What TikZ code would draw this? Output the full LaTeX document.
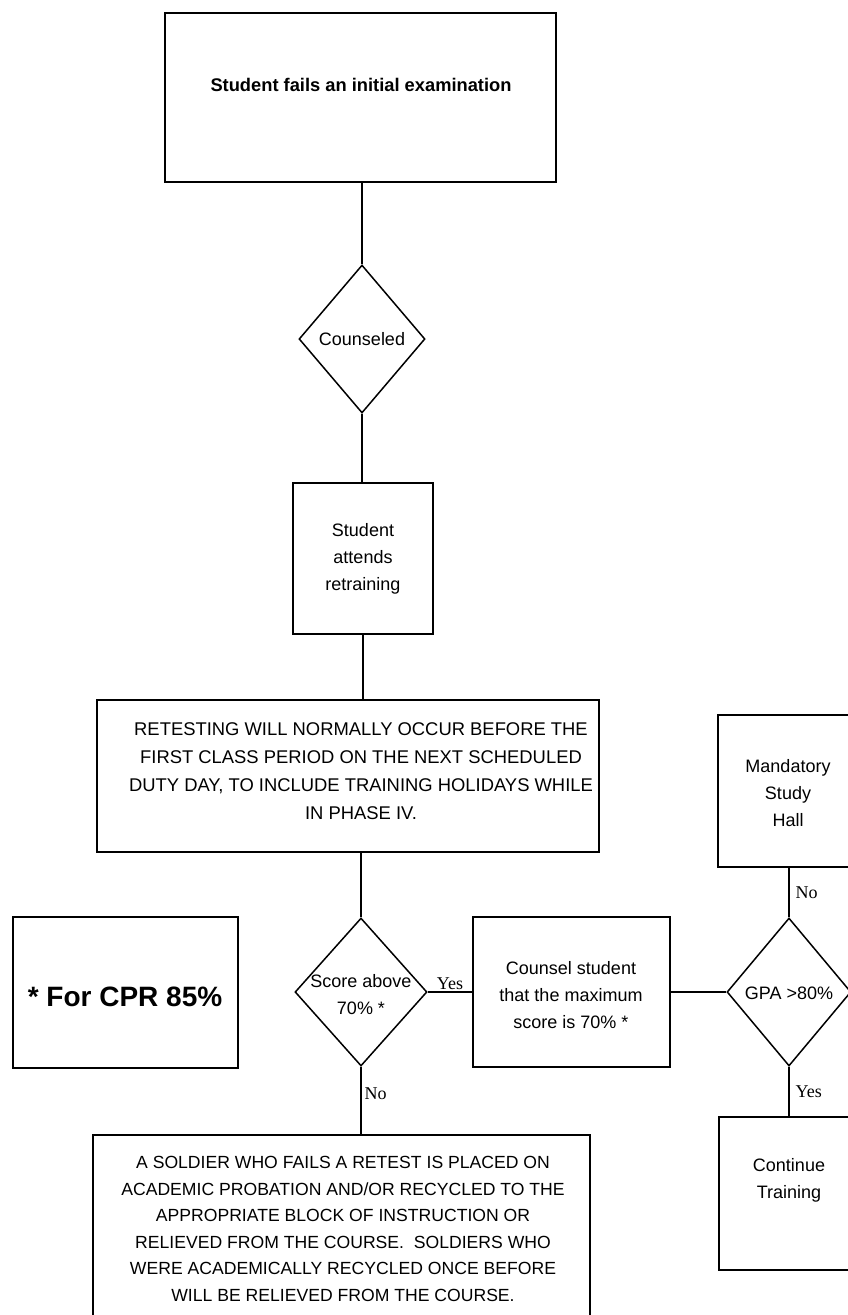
\documentclass[tikz,border=0pt]{standalone}
\usepackage{fontspec}
\setmainfont{Liberation Sans}
\newfontfamily\lblfont{Liberation Serif}
\usetikzlibrary{shapes.geometric}
\begin{document}
\begin{tikzpicture}[x=1pt,y=-1pt,
  box/.style={draw,line width=1.4pt,rectangle,inner sep=0pt},
  dia/.style={draw,line width=1.5pt,diamond,inner sep=0pt},
  txt/.style={align=center,inner sep=0pt,font=\fontsize{18}{27}\selectfont},
  captxt/.style={align=center,inner sep=0pt,font=\fontsize{18.4}{28}\selectfont},
  conn/.style={line width=1.3pt},
  lbl/.style={inner sep=0pt,font=\lblfont\fontsize{18}{20}\selectfont}]
\useasboundingbox (0,0) rectangle (848,1315);
\clip (0,0) rectangle (848,1315);
\fill[white] (0,0) rectangle (848,1315);
% boxes
\node[box,minimum width=391pt,minimum height=169pt] (top) at (360.5,97.5) {};
\node[txt,font=\fontsize{18.3}{27}\selectfont\bfseries] (toptxt) at (361,85) {Student fails an initial examination};
\node[dia,minimum width=126pt,minimum height=148pt] (couns) at (362,339) {};
\node[txt] (counstxt) at (362,339) {Counseled};
\node[box,minimum width=140pt,minimum height=151pt] (retr) at (363,558.5) {};
\node[txt] (retrtxt) at (363,559) {Student\\attends\\retraining};
\node[box,minimum width=502pt,minimum height=152pt] (retest) at (348,776) {};
\node[captxt] (retesttxt) at (361,771) {RETESTING WILL NORMALLY OCCUR BEFORE THE\\FIRST CLASS PERIOD ON THE NEXT SCHEDULED\\DUTY DAY, TO INCLUDE TRAINING HOLIDAYS WHILE\\IN PHASE IV.};
\node[dia,minimum width=132pt,minimum height=148pt] (score) at (361,992) {};
\node[txt] (scoretxt) at (361,995) {Score above\\70\% *};
\node[box,minimum width=197pt,minimum height=150pt] (counsel) at (571.5,992) {};
\node[txt] (counseltxt) at (571,995) {Counsel student\\that the maximum\\score is 70\% *};
\node[dia,minimum width=124pt,minimum height=148pt] (gpa) at (789,992) {};
\node[txt] (gpatxt) at (789,993) {GPA {>}80\%};
\node[box,minimum width=150pt,minimum height=152pt] (mand) at (793,791) {};
\node[txt] (mandtxt) at (788,793) {Mandatory\\Study\\Hall};
\node[box,minimum width=150pt,minimum height=153pt] (cont) at (794,1193.5) {};
\node[txt] (conttxt) at (789,1180) {Continue\\Training};
\node[box,minimum width=225pt,minimum height=151pt] (cpr) at (125.5,992.5) {};
\node[txt,font=\fontsize{28}{32}\selectfont\bfseries] (cprtxt) at (125,997) {* For CPR 85\%};
\node[box,minimum width=497pt,minimum height=200pt] (bot) at (341.5,1235) {};
\node[captxt,font=\fontsize{17.6}{26.5}\selectfont] (bottxt) at (343,1229) {A SOLDIER WHO FAILS A RETEST IS PLACED ON\\ACADEMIC PROBATION AND/OR RECYCLED TO THE\\APPROPRIATE BLOCK OF INSTRUCTION OR\\RELIEVED FROM THE COURSE.\ \ SOLDIERS WHO\\WERE ACADEMICALLY RECYCLED ONCE BEFORE\\WILL BE RELIEVED FROM THE COURSE.};
% connectors
\draw[conn] (top.south -| couns.north) -- (couns.north);
\draw[conn] (couns.south) -- (couns.south |- retr.north);
\draw[conn] (retr.south) -- (retr.south |- retest.north);
\draw[conn] (score.north |- retest.south) -- (score.north);
\draw[conn] (score.south) -- node[lbl,right=3pt,pos=0.4] {No} (score.south |- bot.north);
\draw[conn] (score.east) -- node[lbl,above=2pt] {Yes} (score.east -| counsel.west);
\draw[conn] (counsel.east |- gpa.west) -- (gpa.west);
\draw[conn] (gpa.north) -- node[lbl,right=6pt] {No} (gpa.north |- mand.south);
\draw[conn] (gpa.south) -- node[lbl,right=6pt] {Yes} (gpa.south |- cont.north);
\end{tikzpicture}
\end{document}
